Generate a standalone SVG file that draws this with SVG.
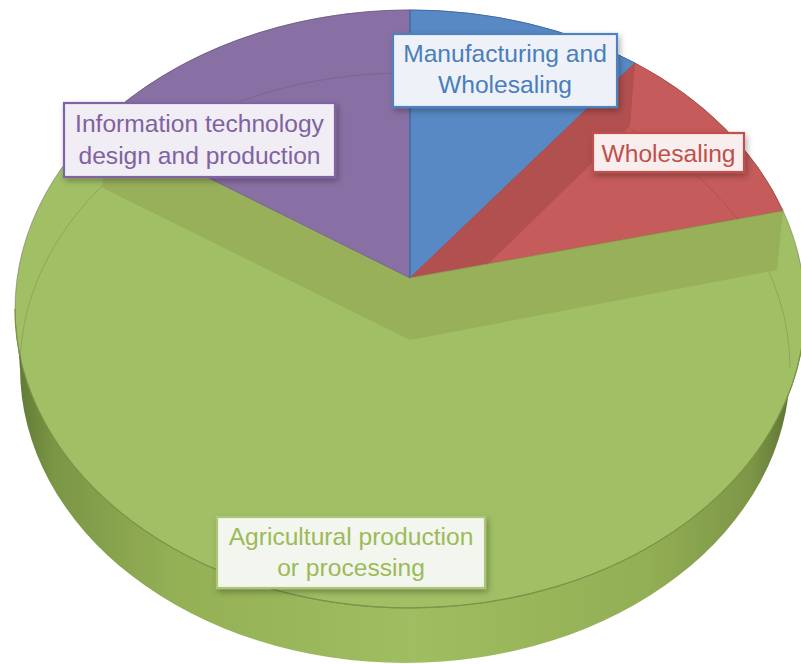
<svg xmlns="http://www.w3.org/2000/svg" width="801" height="664" viewBox="0 0 801 664">
  <defs>
    <style>
      .lbl { font-family: "Liberation Sans", Arial, sans-serif; font-size: 24.6px; text-anchor: middle; }
      .box { stroke-width: 2.2; }
      .wall { stroke: none; }
      .ghost { fill: none; stroke: #3a3a3a; stroke-opacity: 0.18; stroke-width: 1; }
    </style>
    <linearGradient id="sideGrad" x1="15" y1="0" x2="805" y2="0" gradientUnits="userSpaceOnUse">
      <stop offset="0" stop-color="#5f7834"/>
      <stop offset="0.05" stop-color="#7b9645"/>
      <stop offset="0.2" stop-color="#94b055"/>
      <stop offset="0.5" stop-color="#9fbd61"/>
      <stop offset="0.8" stop-color="#93af55"/>
      <stop offset="0.93" stop-color="#7d9747"/>
      <stop offset="1" stop-color="#55692d"/>
    </linearGradient>
    <filter id="shadow" x="-10%" y="-20%" width="125%" height="150%">
      <feDropShadow dx="2" dy="3" stdDeviation="3" flood-color="#000" flood-opacity="0.3"/>
    </filter>
  </defs>

  <rect width="801" height="664" fill="#ffffff"/>

  <g id="pie">
    <!-- side wall -->
    <path id="side" d="M15,309 L20,368 A385,295 0 0,0 790,368 L805,309 A395,299 0 0,1 15,309 Z" fill="url(#sideGrad)"/>
    <!-- green top face (base ellipse) -->
    <g id="slice-agricultural">
      <ellipse cx="410" cy="309" rx="395" ry="299" fill="#a1bf65" stroke="#5a5a5a" stroke-opacity="0.45" stroke-width="1"/>
      <path d="M15,309 A395,299 0 0,0 805,309" fill="none" stroke="#7a9545" stroke-width="1.2"/>
    </g>
    <g id="slice-it">
      <path d="M410,278 L100,124 A395,299 0 0,1 410,10 Z" fill="#8970a4" stroke="#6f5790" stroke-width="0.8"/>
    </g>
    <g id="slice-manufacturing">
      <path d="M410,278 L410,10 A395,299 0 0,1 635,63 Z" fill="#5889c4" stroke="#3f6ea8" stroke-width="1"/>
    </g>
    <g id="slice-wholesaling">
      <path d="M410,278 L635,63 A395,299 0 0,1 783,211 Z" fill="#c55b5a" stroke="#a84746" stroke-width="0.8"/>
    </g>
    <!-- faint back edge of the base seen through the top -->
    <path class="ghost" d="M20,368 A385,295 0 0,1 410,73"/>
    <path class="ghost" d="M630,128.6 A385,295 0 0,1 790,368"/>
    <!-- inner radial walls -->
    <polygon class="wall" points="410,278 635,63 630,126 410,340" fill="#b1504f"/>
    <polygon class="wall" points="410,278 783,211 777,270 410,340" fill="#98b05a"/>
    <polygon class="wall" points="410,278 100,124 103,188 410,340" fill="#98b05a"/>
    <line x1="410" y1="278" x2="783" y2="211" stroke="#8aa04e" stroke-width="0.8"/>
    <line x1="410" y1="278" x2="100" y2="124" stroke="#7a6a8e" stroke-width="0.8"/>
    <line x1="410" y1="10" x2="410" y2="278" stroke="#3f6ea8" stroke-width="1.2"/>
  </g>

  <g id="connectors"/>

  <g id="label-manufacturing">
    <rect class="box" x="393" y="34" width="224" height="73" fill="#eef2f8" stroke="#4f81bd" filter="url(#shadow)"/>
    <text class="lbl" x="505" y="62" fill="#4a7ebb">Manufacturing and</text>
    <text class="lbl" x="505" y="93" fill="#4a7ebb">Wholesaling</text>
  </g>

  <g id="label-it">
    <rect class="box" x="64" y="103" width="271" height="74" fill="#f0edf4" stroke="#8064a2" filter="url(#shadow)"/>
    <text class="lbl" x="199.5" y="132" fill="#7f62a1">Information technology</text>
    <text class="lbl" x="199.5" y="164" fill="#7f62a1">design and production</text>
  </g>

  <g id="label-wholesaling">
    <rect class="box" x="593" y="133" width="151" height="39" fill="#f8eeee" stroke="#c0504d" filter="url(#shadow)"/>
    <text class="lbl" x="668.5" y="162" fill="#c0504d">Wholesaling</text>
  </g>

  <g id="label-agricultural">
    <rect class="box" x="217" y="517" width="268" height="71" fill="#f3f6ee" stroke="#acc679" filter="url(#shadow)"/>
    <text class="lbl" x="351" y="545" fill="#9bbb59">Agricultural production</text>
    <text class="lbl" x="351" y="576" fill="#9bbb59">or processing</text>
  </g>
</svg>
